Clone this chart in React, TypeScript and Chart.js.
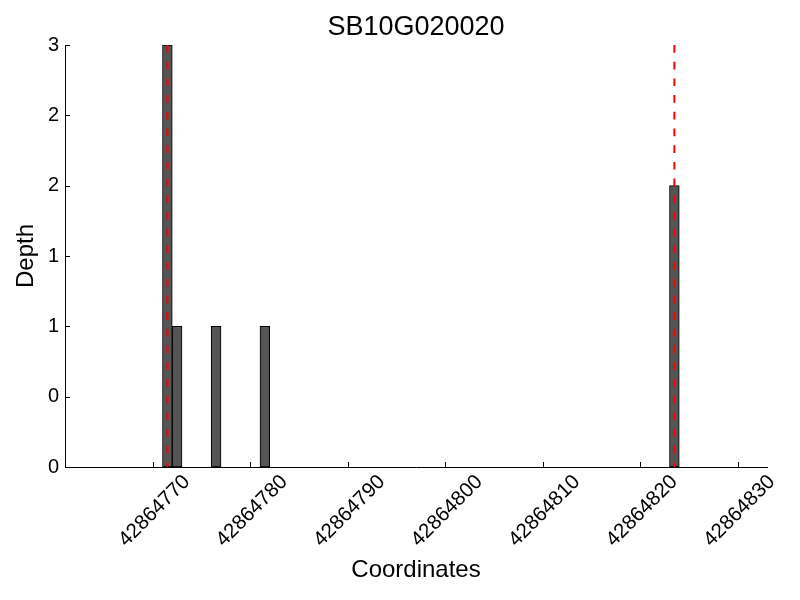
import React, { useEffect, useRef } from "react";
import { Chart, registerables } from "chart.js";

Chart.register(...registerables);

// ---- data ----
const TITLE = "SB10G020020";
const X_LABEL = "Coordinates";
const Y_LABEL = "Depth";

// start coordinate of each 1-bp bin and its depth
const binStarts = [42864771, 42864772, 42864776, 42864781, 42864823];
const depths = [3, 1, 1, 1, 2];
const binWidth = 1;

// red dashed marker positions
const markerPositions = [42864771.5, 42864823.5];

const X_MIN = 42864761;
const X_MAX = 42864833;
const X_STEP = 10;
const Y_MIN = 0;
const Y_MAX = 3;
const Y_STEP = 0.5;

const FONT = "'Liberation Sans', Arial, Helvetica, sans-serif";

const inwardTicks = {
  id: "inwardTicks",
  afterDraw(chart: any) {
    const { ctx, chartArea, scales } = chart;
    const len = 5;
    ctx.save();
    ctx.strokeStyle = "#000";
    ctx.lineWidth = 1;
    ctx.beginPath();
    scales.x.ticks.forEach((t: any) => {
      const px = Math.round(scales.x.getPixelForValue(t.value)) + 0.5;
      ctx.moveTo(px, chartArea.bottom);
      ctx.lineTo(px, chartArea.bottom - len);
    });
    scales.y.ticks.forEach((t: any) => {
      const py = Math.round(scales.y.getPixelForValue(t.value)) + 0.5;
      ctx.moveTo(chartArea.left, py);
      ctx.lineTo(chartArea.left + len, py);
    });
    ctx.stroke();
    ctx.restore();
  },
};

export default function App() {
  const ref = useRef<HTMLCanvasElement | null>(null);

  useEffect(() => {
    if (!ref.current) return;
    const markerSets = markerPositions.map((m, i) => ({
      type: "line" as const,
      label: "marker" + i,
      data: [
        { x: m, y: Y_MAX },
        { x: m, y: Y_MIN },
      ],
      borderColor: "#ff0000",
      borderWidth: 2,
      borderDash: [7.7, 9],
      pointRadius: 0,
      fill: false,
      order: 0,
    }));
    const chart = new Chart(ref.current, {
      type: "bar",
      data: {
        datasets: [
          ...markerSets,
          {
            type: "bar" as const,
            label: Y_LABEL,
            data: binStarts.map((s, i) => ({ x: s + binWidth / 2, y: depths[i] })),
            backgroundColor: "#555555",
            borderColor: "#000000",
            borderWidth: 1,
            borderSkipped: false,
            barPercentage: 1,
            categoryPercentage: 1,
            order: 1,
          },
        ] as any,
      },
      plugins: [inwardTicks],
      options: {
        animation: false,
        responsive: false,
        devicePixelRatio: 1,
        layout: { padding: { left: 0, right: 33, top: 0, bottom: 0 } },
        plugins: {
          legend: { display: false },
          tooltip: { enabled: false },
          title: {
            display: true,
            text: TITLE,
            fullSize: false,
            color: "#000",
            font: { family: FONT, size: 27, weight: "normal" },
            padding: { top: 11, bottom: 1.6 },
          },
        },
        scales: {
          x: {
            type: "linear",
            min: X_MIN,
            max: X_MAX,
            offset: false,
            grid: { display: false, drawTicks: false, offset: false },
            border: { display: true, color: "#000", width: 1 },
            ticks: {
              stepSize: X_STEP,
              includeBounds: false,
              autoSkip: false,
              maxRotation: 45,
              minRotation: 45,
              labelOffset: 34,
              padding: 3,
              color: "#000",
              font: { family: FONT, size: 20.5 },
              callback: (v: any) => String(v),
            },
            title: {
              display: true,
              text: X_LABEL,
              color: "#000",
              font: { family: FONT, size: 24 },
              padding: { top: 0, bottom: 15.6 },
            },
            afterFit: (s: any) => {
              s.height = 133;
            },
          },
          y: {
            type: "linear",
            min: Y_MIN,
            max: Y_MAX,
            grid: { display: false, drawTicks: false },
            border: { display: true, color: "#000", width: 1 },
            ticks: {
              stepSize: Y_STEP,
              padding: 6,
              color: "#000",
              font: { family: FONT, size: 20 },
              callback: (v: any) => String(Math.trunc(Number(v))),
            },
            title: {
              display: true,
              text: Y_LABEL,
              color: "#000",
              font: { family: FONT, size: 24 },
              padding: { top: 12, bottom: 0 },
            },
            afterFit: (s: any) => {
              s.width = 65;
            },
          },
        },
      } as any,
    });
    return () => chart.destroy();
  }, []);

  return (
    <div style={{ position: "fixed", left: 0, top: 0, width: 800, height: 600, background: "#fff" }}>
      <canvas ref={ref} width={800} height={600} style={{ width: 800, height: 600, display: "block" }} />
    </div>
  );
}
